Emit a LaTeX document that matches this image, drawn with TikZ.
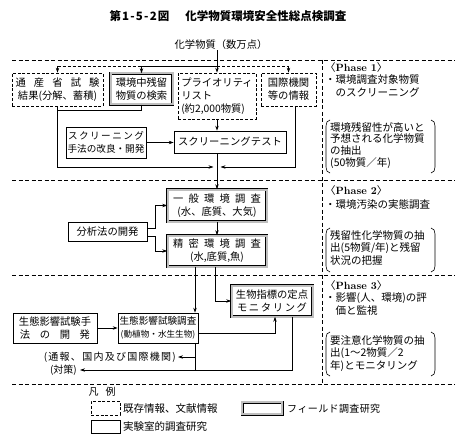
\documentclass[tikz,border=0pt]{standalone}
\usepackage{fontspec}
\newfontfamily\jp{Noto Sans CJK JP}
\usetikzlibrary{arrows.meta}
\makeatletter
\def\spr#1#2{\makebox[#1][s]{\spr@first#2\relax}}
\def\spr@first#1{#1\spr@rest}
\def\spr@rest#1{\ifx#1\relax\else\hfill#1\expandafter\spr@rest\fi}
\makeatother
\tikzset{
  box/.style={draw, line width=0.6pt, inner sep=0pt, align=center, font=\jp\fontsize{10.3}{13}\selectfont},
  dbox/.style={box, dash pattern=on 3pt off 1.8pt},
  fbox/.style={box, line width=0.5pt, double=gray!50, double distance=2pt},
  txt/.style={inner sep=0pt, font=\jp\fontsize{10}{12}\selectfont},
  phase/.style={inner sep=0pt, align=left, anchor=north west, font=\jp\fontsize{10.5}{12.5}\selectfont},
  ln/.style={line width=0.7pt},
  arr/.style={ln, -{Stealth[length=5pt,width=3.4pt]}},
  darr/.style={arr, dash pattern=on 3pt off 2pt},
  sep/.style={line width=0.6pt, dash pattern=on 4pt off 2.5pt},
  brk/.style={line width=0.6pt},
}
\begin{document}
\begin{tikzpicture}[x=1pt,y=-1pt]
\useasboundingbox (0,0) rectangle (462,446);

% title
\node[txt, font=\jp\bfseries\fontsize{11.5}{13}\selectfont] (title) at (228,16)
  {\spr{60pt}{第1-5-2図}\hspace{16pt}化学物質環境安全性総点検調査};
\node[txt, font=\jp\fontsize{10.3}{12}\selectfont] (chem) at (221,45) {化学物質（数万点）};

% separators
\draw[sep] (12,60) -- (455,60);
\draw[sep] (12,180) -- (455,180);
\draw[sep] (12,275) -- (455,275);
\draw[sep] (12,384) -- (455,384);
\draw[sep] (322,60) -- (322,384);

% Phase 1 boxes
\node[dbox, minimum width=91, minimum height=33] (A) at (57.5,89.5)
  {\spr{84pt}{通産省試験}\\結果(分解、蓄積)};
\node[fbox, minimum width=62, minimum height=31] (B) at (141.5,89)
  {環境中残留\\物質の検索};
\node[dbox, minimum width=78, minimum height=46, align=left] (C) at (217,96)
  {プライオリティ\\リスト\\(約2,000物質)};
\node[dbox, minimum width=55, minimum height=33] (D) at (288.5,89.5)
  {国際機関\\等の情報};
\node[box, minimum width=80, minimum height=31, font=\jp\fontsize{9.6}{13}\selectfont] (M) at (106,142.5)
  {\spr{76pt}{スクリーニング}\\手法の改良・開発};
\node[box, minimum width=112, minimum height=22] (T) at (230,142)
  {\spr{104pt}{スクリーニングテスト}};

\coordinate (j) at (217,66);
\coordinate (dx) at (295,0);
\draw[ln] (chem.south -| j) -- (j);
\draw[ln] (B.north |- j) -- (j);
\draw[ln, dash pattern=on 3pt off 2pt] (A.north |- j) -- (B.north |- j);
\draw[ln, dash pattern=on 3pt off 2pt] (j) -- (D.north |- j);
\draw[darr] (A.north |- j) -- (A.north);
\draw[arr] (B.north |- j) -- (B.north);
\draw[arr] (j) -- (C.north);
\draw[darr] (D.north |- j) -- (D.north);

\draw[ln] (B.south) |- (A.south |- 0,110);
\draw[arr] (A.south) |- (213.5,167);
\draw[arr] (D.south -| dx) |- (220.5,167);
\draw[arr] (C.south) -- (C.south |- T.north);
\draw[arr] (M.east) -- (M.east -| T.west);

% Phase 2
\node[fbox, minimum width=99, minimum height=32] (G) at (217,205.5)
  {\spr{88pt}{一般環境調査}\\(水、底質、大気)};
\node[fbox, minimum width=99, minimum height=31] (P) at (217,251)
  {\spr{88pt}{精密環境調査}\\(水,底質,魚)};
\node[box, minimum width=79, minimum height=19] (AN) at (107.5,231.5) {分析法の開発};

\draw[arr] (T.south -| G.north) -- (G.north);
\draw[arr] (G.south) -- (P.north);
\coordinate (a1) at (155,228);
\coordinate (a2) at (155,236);
\draw[arr] (AN.east |- a1) -- (a1) |- (G.west);
\draw[arr] (AN.east |- a2) -- (a2) |- (P.west);

% Phase 3
\node[fbox, minimum width=81, minimum height=31] (BI) at (272,301)
  {生物指標の定点\\\spr{70pt}{モニタリング}};
\node[box, minimum width=84, minimum height=30] (EM) at (55,328)
  {生態影響試験手\\\spr{70pt}{法の開発}};
\node[box, minimum width=80, minimum height=30] (ES) at (158,328)
  {{\fontsize{9.6}{13}\selectfont 生態影響試験調査}\\{\fontsize{8.6}{13}\selectfont(動植物・水生生物)}};
\node[txt, anchor=east] (N1) at (176,357) {\spr{132pt}{(通報、国内及び国際機関)}};
\node[txt, anchor=east] (N2) at (77,370) {(対策)};

\coordinate (p1) at (195,0);
\coordinate (p2) at (215,0);
\coordinate (p3) at (275,333);
\coordinate (p4) at (292,0);
\draw[arr] (P.south -| p1) -- (ES.north -| p1);
\draw[arr] (P.south -| p2) |- (BI.west);
\draw[arr] (EM.east) -- (ES.west);
\draw[arr] (ES.east |- p3) -| (BI.south -| p3);
\draw[ln] (ES.south -| p1) -- (p1 |- N2.east);
\draw[arr] (p1 |- N1.east) -- ([xshift=2pt]N1.east);
\draw[arr] (BI.south -| p4) |- ([xshift=3pt]N2.east);

% right column
\node[phase] (ph1) at (325,62)
  {〈{\rmfamily\bfseries Phase 1}〉\\・環境調査対象物質\\\phantom{・}のスクリーニング};
\node[phase, font=\jp\fontsize{10.5}{11.7}\selectfont] (ph1b) at (330,122)
  {環境残留性が高いと\\予想される化学物質\\の抽出\\(50物質／年)};
\node[phase, font=\jp\fontsize{10.5}{14}\selectfont] (ph2) at (325,185)
  {〈{\rmfamily\bfseries Phase 2}〉\\・環境汚染の実態調査};
\node[phase] (ph2b) at (330,230)
  {残留性化学物質の抽\\出(5物質/年)と残留\\状況の把握};
\node[phase] (ph3) at (325,280)
  {〈{\rmfamily\bfseries Phase 3}〉\\・影響(人、環境)の評\\\phantom{・}価と監視};
\node[phase] (ph3b) at (330,335)
  {要注意化学物質の抽\\出(1～2物質／2\\年)とモニタリング};

% brackets
\foreach \t/\b in {120/173, 228/272, 332/376}{
  \draw[brk] (330,\t) to[out=180,in=90] (326,\t+6) -- (326,\b-6) to[out=-90,in=180] (330,\b);
  \draw[brk] (431,\t) to[out=0,in=90] (435,\t+6) -- (435,\b-6) to[out=-90,in=0] (431,\b);
}

% legend
\node[txt] (LG) at (102,392) {凡\hspace{7pt}例};
\node[dbox, minimum width=29, minimum height=14] (L1) at (105.5,408) {};
\node[txt, anchor=west, font=\jp\fontsize{10.5}{12}\selectfont] (L1t) at (123,409) {既存情報、文献情報};
\node[fbox, minimum width=40, minimum height=12] (L2) at (262,408) {};
\node[txt, anchor=west] (L2t) at (287,409) {\spr{93pt}{フィールド調査研究}};
\node[box, minimum width=29, minimum height=13] (L3) at (105.5,426.5) {};
\node[txt, anchor=west, font=\jp\fontsize{10.5}{12}\selectfont] (L3t) at (123,427) {実験室的調査研究};
\end{tikzpicture}
\end{document}
